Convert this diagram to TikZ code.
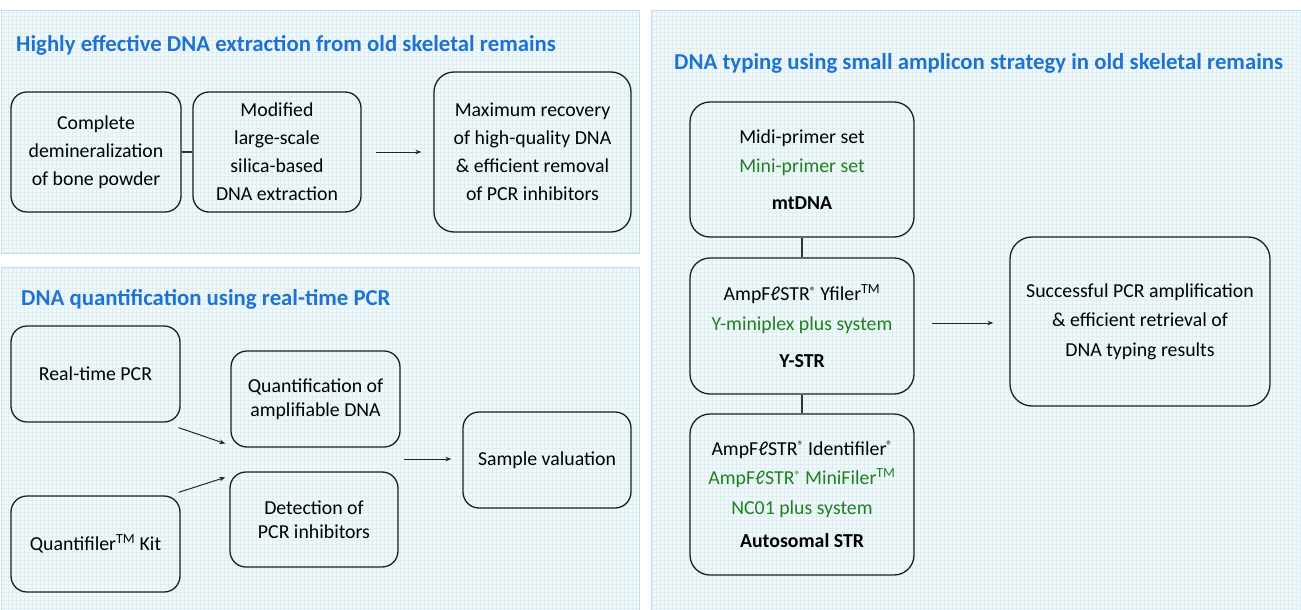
\documentclass[tikz,border=0pt]{standalone}
\usepackage{fontspec}
\setmainfont{Carlito}
\usetikzlibrary{arrows.meta,calc}
\definecolor{titleblue}{RGB}{31,115,208}
\definecolor{grn}{RGB}{32,128,32}
\definecolor{pfill}{RGB}{243,249,250}
\definecolor{pgrid}{RGB}{221,239,243}
\definecolor{pborder}{RGB}{194,225,231}
\newcommand{\regmk}{\raisebox{0.55ex}{\fontsize{12}{12}\selectfont ®}}
\begin{document}
\begin{tikzpicture}[x=1pt,y=-1pt,
  box/.style={draw=black!88, line width=1.3pt, rounded corners=16pt, align=center, inner sep=0pt},
  fa/.style={font=\fontsize{19.8}{28}\selectfont},
  fb/.style={font=\fontsize{19.8}{24}\selectfont},
  fc/.style={font=\fontsize{19.8}{29.5}\selectfont},
  paneltitle/.style={anchor=west, inner sep=0pt, text=titleblue, font=\bfseries\fontsize{22.8}{26}\selectfont},
  arr/.style={-{Stealth[length=6pt,width=4.5pt]}, line width=1pt, black!85},
  conn/.style={line width=1.2pt, black!80}]
\useasboundingbox (0,0) rectangle (1301,610);
% panels
\foreach \xa/\ya/\xb/\yb in {1/11/639/253, 1/267/639/614, 651/11/1305/614} {
  \fill[pfill] (\xa,\ya) rectangle (\xb,\yb);
  \begin{scope}
    \clip (\xa,\ya) rectangle (\xb,\yb);
    \draw[pgrid, line width=0.8pt, step=4pt] (\xa,\ya) grid (\xb,\yb);
  \end{scope}
  \draw[pborder, line width=1pt] (\xa,\ya) rectangle (\xb,\yb);
}
% panel 1
\node[paneltitle] (t1) at (16,45) {Highly effective DNA extraction from old skeletal remains};
\node[box,fa,minimum width=170pt,minimum height=120pt] (A) at (96,152) {Complete\\demineralization\\of bone powder};
\node[box,fa,minimum width=168pt,minimum height=120pt] (B) at (277,152) {Modified\\large-scale\\silica-based\\DNA extraction};
\node[box,fa,minimum width=197pt,minimum height=160pt,rounded corners=20pt] (C) at (532.5,152) {Maximum recovery\\of high-quality DNA\\\& efficient removal\\of PCR inhibitors};
\draw[conn] (A.east) -- (B.west);
\draw[arr, shorten <=14pt, shorten >=12pt] (B.east) -- (C.west);
% panel 2
\node[paneltitle] (t2) at (21,299) {DNA quantification using real-time PCR};
\node[box,fb,minimum width=169pt,minimum height=96pt] (RT) at (95.5,374) {Real-time PCR};
\node[box,fb,minimum width=169pt,minimum height=96pt] (QK) at (95.5,544) {Quantifiler\textsuperscript{TM} Kit};
\node[box,fb,minimum width=169pt,minimum height=96pt] (QA) at (315.5,399) {Quantification of\\amplifiable DNA};
\node[box,fb,minimum width=168pt,minimum height=95pt] (DP) at (314,519.5) {Detection of\\PCR inhibitors};
\node[box,fb,minimum width=168pt,minimum height=96pt] (SV) at (547,460) {Sample valuation};
\draw[arr] ([shift={(-2,5)}]RT.south east) -- ([shift={(-5,-4)}]QA.south west);
\draw[arr] ([shift={(-2,-3)}]QK.north east) -- ([shift={(-4,6)}]DP.north west);
\coordinate (sv0) at ($(SV.west)+(-58,-1)$);
\draw[arr, shorten >=11pt] (sv0) -- (sv0 -| SV.west);
% panel 3
\node[paneltitle] (t3) at (674,63) {DNA typing using small amplicon strategy in old skeletal remains};
\node[box,fc,minimum width=224pt,minimum height=135pt,rounded corners=20pt] (MT) at (802,169.5) {Midi-primer set\\\textcolor{grn}{Mini-primer set}\\[7pt]\textbf{mtDNA}};
\node[box,fc,minimum width=224pt,minimum height=136pt,rounded corners=20pt] (YS) at (802,326) {AmpFℓSTR\regmk{} Yfiler\textsuperscript{TM}\\\textcolor{grn}{Y-miniplex plus system}\\[8pt]\textbf{Y-STR}};
\node[box,fc,minimum width=224pt,minimum height=161pt,rounded corners=20pt] (AS) at (802,494.5) {AmpFℓSTR\regmk{} Identifiler\regmk\\\textcolor{grn}{AmpFℓSTR\regmk{} MiniFiler\textsuperscript{TM}}\\\textcolor{grn}{NC01 plus system}\\[4pt]\textbf{Autosomal STR}};
\node[box,fc,minimum width=260pt,minimum height=169pt,rounded corners=22pt] (SU) at (1140,321.5) {Successful PCR amplification\\\& efficient retrieval of\\DNA typing results};
\draw[conn] (MT.south) -- (YS.north);
\draw[conn] (YS.south) -- (AS.north);
\coordinate (ys0) at ([yshift=3pt]YS.east);
\draw[arr, shorten <=17pt, shorten >=16pt] (ys0) -- (ys0 -| SU.west);
\end{tikzpicture}
\end{document}
